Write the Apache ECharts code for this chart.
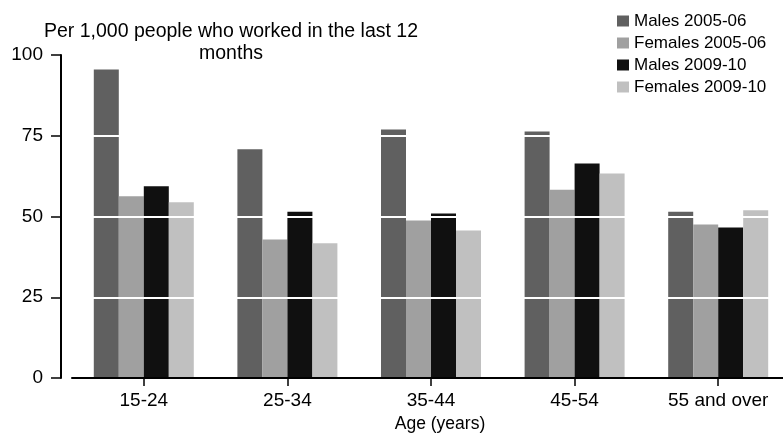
<!DOCTYPE html>
<html>
<head>
<meta charset="utf-8">
<script src="https://cdn.jsdelivr.net/npm/echarts@6/dist/echarts.min.js"></script>
<style>
html,body{margin:0;padding:0;background:#fff;}
#chart{width:783px;height:440px;}
</style>
</head>
<body>
<div id="chart"></div>
<script>
const categories = ['15-24', '25-34', '35-44', '45-54', '55 and over'];
const seriesNames = ['Males 2005-06', 'Females 2005-06', 'Males 2009-10', 'Females 2009-10'];
const males0506 = [95.5, 70.8, 76.9, 76.3, 51.5];
const females0506 = [56.3, 42.9, 48.8, 58.3, 47.5];
const males0910 = [59.4, 51.5, 50.9, 66.4, 46.6];
const females0910 = [54.4, 41.7, 45.7, 63.3, 51.9];
const yTicks = [0, 25, 50, 75, 100];
const colors = ['#606060', '#a0a0a0', '#101010', '#c0c0c0'];

const FONT = '"Liberation Sans", Arial, sans-serif';
const values = [males0506, females0506, males0910, females0910];

const chart = echarts.init(document.getElementById('chart'), null, {renderer: 'canvas'});
chart.setOption({
  animation: false,
  backgroundColor: '#fff',
  textStyle: {fontFamily: FONT, color: '#000'},
  title: {
    text: 'Per 1,000 people who worked in the last 12\nmonths',
    left: 226,
    top: 16,
    textAlign: 'center',
    textStyle: {fontFamily: FONT, fontSize: 19.5, fontWeight: 'normal', color: '#000', lineHeight: 22}
  },
  legend: {
    orient: 'vertical',
    left: 612,
    top: 7,
    itemWidth: 12,
    itemHeight: 11,
    itemGap: 4,
    icon: 'rect',
    data: seriesNames,
    textStyle: {fontFamily: FONT, fontSize: 17, lineHeight: 18, color: '#000'}
  },
  grid: {left: 72, top: 55, width: 718, height: 323, containLabel: false, outerBoundsMode: 'none'},
  xAxis: {
    type: 'category',
    data: categories,
    z: 6,
    name: 'Age (years)',
    nameLocation: 'middle',
    nameGap: 35,
    nameTextStyle: {fontFamily: FONT, fontSize: 17.5, color: '#000', padding: [0, 0, 0, 18]},
    axisLine: {show: true, lineStyle: {color: '#000', width: 2}},
    axisTick: {show: true, alignWithLabel: true, length: 8, lineStyle: {color: '#000', width: 1.5}},
    axisLabel: {fontFamily: FONT, fontSize: 19, color: '#000', margin: 13, interval: 0},
    splitLine: {show: false}
  },
  yAxis: {
    type: 'value',
    min: yTicks[0],
    max: yTicks[yTicks.length - 1],
    interval: 25,
    offset: 11,
    z: 5,
    axisLine: {show: true, lineStyle: {color: '#000', width: 2}},
    axisTick: {show: true, length: 10, lineStyle: {color: '#000', width: 1.5}},
    axisLabel: {fontFamily: FONT, fontSize: 19, color: '#000', margin: 18},
    splitLine: {show: true, lineStyle: {color: '#ffffff', width: 2}}
  },
  series: seriesNames.map((n, i) => ({
    name: n,
    type: 'bar',
    data: values[i],
    barWidth: 25,
    barGap: '0%',
    itemStyle: {color: colors[i]},
    z: 2
  }))
});
</script>
</body>
</html>
